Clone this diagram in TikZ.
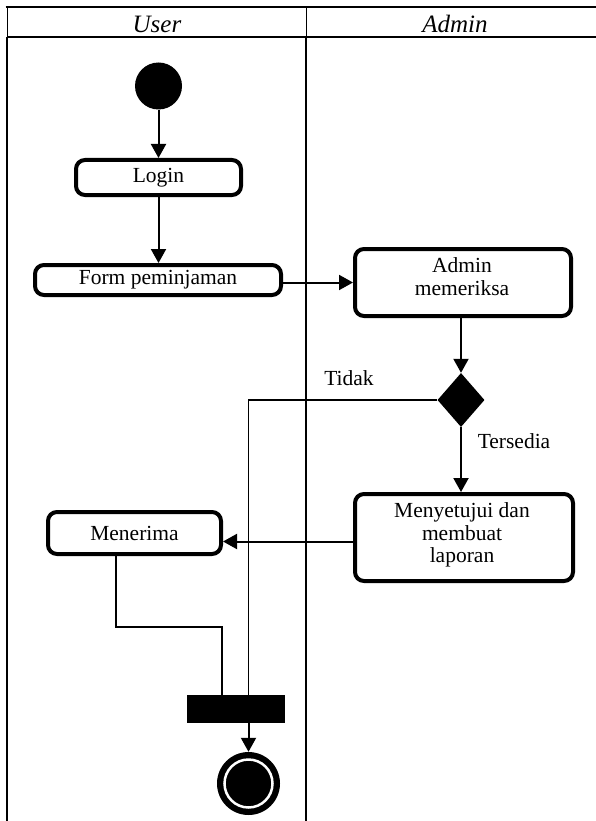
\documentclass[tikz,border=0pt]{standalone}
\usepackage{fontspec}
\setmainfont{Liberation Serif}
\usetikzlibrary{arrows.meta,shapes.geometric}
\tikzset{
  act/.style={draw, line width=4pt, rounded corners=9pt, fill=white, inner sep=0pt,
    font=\fontsize{21.5}{23}\selectfont},
  txt/.style={inner sep=0pt, align=center, font=\fontsize{21.5}{22.5}\selectfont},
  lbl/.style={inner sep=0pt, anchor=base, font=\fontsize{21.5}{23}\selectfont},
  head/.style={inner sep=0pt, anchor=base, font=\fontsize{25}{28}\selectfont\itshape},
  flow/.style={line width=2pt, -{Triangle[length=14pt,width=15pt]}},
  plain/.style={line width=1.3pt},
  lanethin/.style={line width=1pt},
  lanethick/.style={line width=2.5pt},
}
\begin{document}
\begin{tikzpicture}[x=1pt,y=-1pt]
\useasboundingbox (0,0) rectangle (596,821);
% swimlanes
\draw[line width=2.7pt] (5.7,7) -- (596,7);
\draw[line width=2.3pt] (7,37) -- (596,37);
\draw[lanethin] (7,7) -- (7,37);
\draw[lanethin] (306,7) -- (306,37);
\draw[lanethick] (7,37) -- (7,821);
\draw[lanethick] (306,37) -- (306,821);
\node[head] (huser) at (157,33) {User};
\node[head] (hadmin) at (455,33) {Admin};
% nodes
\node[circle, fill=black, minimum size=47pt, inner sep=0pt] (start) at (158.5,86) {};
\node[act, minimum width=165pt, minimum height=35pt] (login) at (158.5,177.5) {Login};
\node[act, minimum width=246pt, minimum height=30pt] (form) at (158,280) {Form peminjaman};
\node[act, minimum width=216pt, minimum height=67pt] (check) at (463,282.5) {};
\node[txt] (checktxt) at (462,276.5) {Admin\\memeriksa};
\node[diamond, fill=black, minimum width=47pt, minimum height=54pt, inner sep=0pt] (dec) at (461,400) {};
\node[act, minimum width=218pt, minimum height=87pt] (approve) at (464,537.5) {};
\node[txt] (approvetxt) at (462,535) {Menyetujui dan\\membuat\\laporan};
\node[act, minimum width=173pt, minimum height=42pt] (receive) at (134.5,533) {Menerima};
\node[rectangle, fill=black, minimum width=98pt, minimum height=28pt, inner sep=0pt] (bar) at (236,709) {};
\node[circle, fill=black, minimum size=63pt, inner sep=0pt] (end) at (248.5,783.5) {};
\draw[white, line width=2.5pt] (end.center) circle (24pt);
% labels
\node[lbl] (tidak) at (349,385) {Tidak};
\node[lbl] (tersedia) at (514,448) {Tersedia};
% connectors
\draw[flow] (start) -- (login);
\draw[flow] (login.south) -- (login.south |- form.north);
\draw[flow] (form.east |- check.west) -- (check.west);
\draw[flow] (check.south -| dec.north) -- (dec.north);
\draw[flow] (dec.south) -- (dec.south |- approve.north);
\coordinate (a1) at ([yshift=-4pt]approve.west);
\draw[flow] (a1) -- (receive.east |- a1);
\coordinate (j1) at (end.north |- bar.north);
\draw[plain] (dec.west) -| (j1);
\coordinate (m1) at (116,627);
\coordinate (j2) at (222,695);
\draw[plain] (receive.south -| m1) -- (m1) -| (j2);
\draw[flow] (bar.south -| end.north) -- (end.north);
\end{tikzpicture}
\end{document}
